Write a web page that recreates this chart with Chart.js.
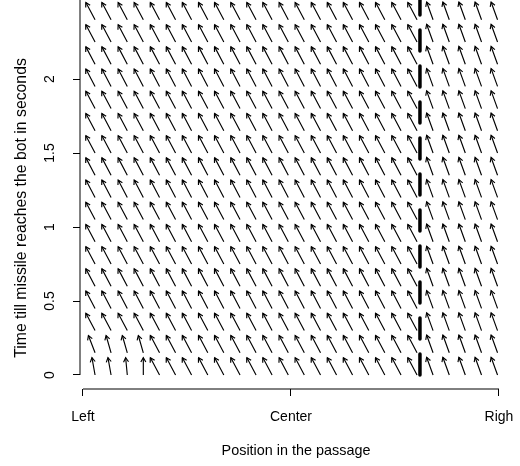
<!DOCTYPE html>
<html>
<head>
<meta charset="utf-8">
<title>Missile field</title>
<script src="https://cdn.jsdelivr.net/npm/chart.js@4.4.1/dist/chart.umd.min.js"></script>
<style>
  html, body { margin: 0; padding: 0; background: #fff; }
  #wrap { width: 520px; height: 466px; }
</style>
</head>
<body>
<div id="wrap"><canvas id="field"></canvas></div>
<script>
// tails of the arrows (position, time)
var colX = [-0.942, -0.865, -0.787, -0.710, -0.632, -0.555, -0.478, -0.400, -0.323,
            -0.245, -0.168, -0.091, -0.013, 0.064, 0.142, 0.219, 0.296, 0.374,
            0.451, 0.529, 0.606, 0.683, 0.761, 0.838, 0.916, 0.993];
var rowT = [0, 0.15, 0.3, 0.45, 0.6, 0.75, 0.9, 1.05, 1.2, 1.35, 1.5, 1.65, 1.8,
            1.95, 2.1, 2.25, 2.4];
// arrow components per column
var colDx = [-0.044, -0.044, -0.044, -0.044, -0.044, -0.044, -0.044, -0.044, -0.044,
             -0.044, -0.044, -0.044, -0.044, -0.044, -0.044, -0.044, -0.044, -0.044,
             -0.044, -0.044, -0.044, -0.031, -0.031, -0.031, -0.031, -0.031];
var colDt = [0.117, 0.117, 0.117, 0.117, 0.117, 0.117, 0.117, 0.117, 0.117,
             0.117, 0.117, 0.117, 0.117, 0.117, 0.117, 0.117, 0.117, 0.117,
             0.117, 0.117, 0.117, 0.12, 0.12, 0.12, 0.12, 0.12];
// the two bottom rows bend near the left side
var row0Dx = [-0.015, -0.015, -0.008, 0];
var row1Dx = [-0.032, -0.024, -0.024, -0.024];
var wallX = 0.62;
var xTickValues = [-1, 0, 1];
var xTickLabels = ["Left", "Center", "Righ"];
var yTickValues = [0, 0.5, 1, 1.5, 2];

var xMin = -1.0144, xMax = 1.0625, yMin = -0.0946, yMax = 2.3514;
var headLen = 5, headAngle = Math.PI / 6;

var arrows = [];
for (var j = 0; j < rowT.length; j++) {
  for (var i = 0; i < colX.length; i++) {
    var dx = colDx[i];
    if (j == 0 && i < row0Dx.length) dx = row0Dx[i];
    if (j == 1 && i < row1Dx.length) dx = row1Dx[i];
    arrows.push({x0: colX[i], y0: rowT[j], x1: colX[i] + dx, y1: rowT[j] + colDt[i]});
  }
}

var shafts = [];
arrows.forEach(function(a){
  shafts.push({x: a.x0, y: a.y0}, {x: a.x1, y: a.y1}, {x: null, y: null});
});

Chart.defaults.font.family = "'Liberation Sans', Arial, sans-serif";
Chart.defaults.font.size = 14;
Chart.defaults.color = '#000';

function lineSet(label, data, width) {
  return { label: label, data: data, showLine: true, spanGaps: false,
           borderColor: '#000', borderWidth: width, pointRadius: 0,
           pointHoverRadius: 0, clip: false };
}

var wall = lineSet('wall', [{x: wallX, y: 0}, {x: wallX, y: 2.6}], 3.5);
wall.borderDash = [21, 15];
wall.borderCapStyle = 'round';

var chart = new Chart(document.getElementById('field'), {
  type: 'scatter',
  data: {
    datasets: [
      lineSet('arrows', shafts, 1.15),
      lineSet('heads', [], 1.15),
      wall,
      lineSet('y axis', [{x: xMin, y: 0}, {x: xMin, y: 2.6}], 1),
      lineSet('x axis', [{x: -1, y: yMin}, {x: 1, y: yMin}], 1)
    ]
  },
  options: {
    responsive: true,
    maintainAspectRatio: false,
    animation: false,
    layout: { padding: { top: 27, right: 8, left: 0, bottom: 0 } },
    plugins: { legend: { display: false }, tooltip: { enabled: false } },
    scales: {
      x: {
        type: 'linear', min: xMin, max: xMax,
        afterBuildTicks: function(s){ s.ticks = xTickValues.map(function(v){ return {value: v}; }); },
        ticks: {
          padding: 4,
          font: { size: 14, lineHeight: 2.4 },
          callback: function(v){ return xTickLabels[xTickValues.indexOf(v)]; }
        },
        grid: { drawOnChartArea: false, tickLength: 7, tickColor: '#000' },
        border: { display: false },
        title: { display: true, text: 'Position in the passage',
                 font: { size: 14.4, lineHeight: 1.2 }, padding: { top: 4.36, bottom: 6.76 } }
      },
      y: {
        type: 'linear', min: yMin, max: yMax,
        afterBuildTicks: function(s){ s.ticks = yTickValues.map(function(v){ return {value: v}; }); },
        ticks: {
          padding: 13.2, minRotation: 90, maxRotation: 90, crossAlign: 'center',
          font: { size: 14, lineHeight: 1.2 },
          callback: function(v){ return String(v); }
        },
        grid: { drawOnChartArea: false, tickLength: 7, tickColor: '#000' },
        border: { display: false },
        title: { display: true, text: 'Time till missile reaches the bot in seconds',
                 font: { size: 15.8, lineHeight: 1.2 }, padding: { top: 11.7, bottom: -0.86 } }
      }
    }
  }
});

// arrow heads need the pixel aspect, so build them once the scales exist
var sx = chart.scales.x, sy = chart.scales.y;
var heads = [];
arrows.forEach(function(a){
  var tx = sx.getPixelForValue(a.x0), ty = sy.getPixelForValue(a.y0);
  var hx = sx.getPixelForValue(a.x1), hy = sy.getPixelForValue(a.y1);
  var ang = Math.atan2(ty - hy, tx - hx);
  heads.push(
    {x: sx.getValueForPixel(hx + headLen * Math.cos(ang - headAngle)),
     y: sy.getValueForPixel(hy + headLen * Math.sin(ang - headAngle))},
    {x: a.x1, y: a.y1},
    {x: sx.getValueForPixel(hx + headLen * Math.cos(ang + headAngle)),
     y: sy.getValueForPixel(hy + headLen * Math.sin(ang + headAngle))},
    {x: null, y: null});
});
chart.data.datasets[1].data = heads;
chart.update();
</script>
</body>
</html>
